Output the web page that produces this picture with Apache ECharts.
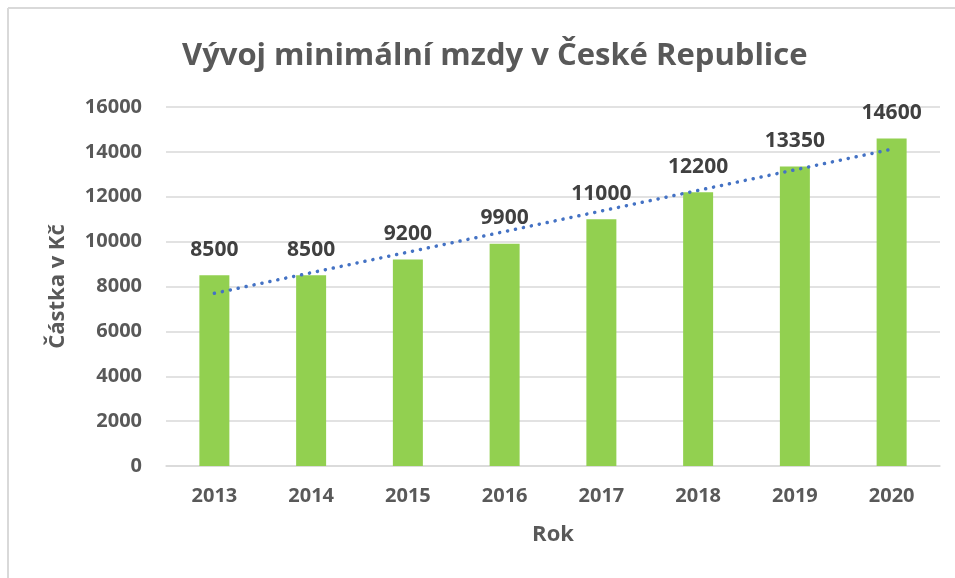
<!DOCTYPE html>
<html>
<head>
<meta charset="utf-8">
<script src="https://cdn.jsdelivr.net/npm/echarts@6/dist/echarts.min.js"></script>
<style>html,body{margin:0;padding:0;background:#fff}#c{width:955px;height:578px}</style>
</head>
<body>
<div id="c"></div>
<script>
const titleText = 'Vývoj minimální mzdy v České Republice';
const years = ['2013','2014','2015','2016','2017','2018','2019','2020'];
const wages = [8500, 8500, 9200, 9900, 11000, 12200, 13350, 14600];
const yAxisName = 'Částka v Kč';
const xAxisName = 'Rok';

// Linear trendline (least squares) computed from the data, as Excel does
const n = wages.length;
const mx = (n + 1) / 2;
const my = wages.reduce((a, b) => a + b, 0) / n;
let sxy = 0, sxx = 0;
wages.forEach((v, i) => { const dx = (i + 1) - mx; sxy += dx * (v - my); sxx += dx * dx; });
const slope = sxy / sxx;
const trend = wages.map((v, i) => my + slope * ((i + 1) - mx));

const FONT = '"Open Sans", "Noto Sans", sans-serif';
const chart = echarts.init(document.getElementById('c'), null, {renderer: 'canvas'});
chart.setOption({
  animation: false,
  backgroundColor: '#ffffff',
  title: {
    text: titleText, left: 177, top: 36,
    textStyle: {fontFamily: FONT, fontSize: 31, fontWeight: 'bold', color: '#595959'}
  },
  graphic: [
    {type: 'line', shape: {x1: 8, y1: 8, x2: 960, y2: 8}, style: {stroke: '#d9d9d9', lineWidth: 2}, silent: true},
    {type: 'line', shape: {x1: 8, y1: 8, x2: 8, y2: 580}, style: {stroke: '#d9d9d9', lineWidth: 2}, silent: true}
  ],
  grid: {left: 166, right: 15, top: 107, bottom: 112},
  xAxis: {
    type: 'category', data: years,
    name: xAxisName, nameLocation: 'middle', nameGap: 58,
    nameTextStyle: {fontFamily: FONT, fontSize: 22, fontWeight: 'bold', color: '#595959'},
    axisLine: {lineStyle: {color: '#d9d9d9', width: 1.5}},
    axisTick: {show: false},
    axisLabel: {fontFamily: FONT, fontSize: 20, fontWeight: 'bold', color: '#595959', margin: 20}
  },
  yAxis: {
    type: 'value', min: 0, max: 16000, interval: 2000,
    name: yAxisName, nameLocation: 'middle', nameGap: 97, nameRotate: 90,
    nameTextStyle: {fontFamily: FONT, fontSize: 22, fontWeight: 'bold', color: '#595959'},
    axisLine: {show: false}, axisTick: {show: false},
    axisLabel: {fontFamily: FONT, fontSize: 20, fontWeight: 'bold', color: '#595959', margin: 24,
      formatter: v => String(v)},
    splitLine: {lineStyle: {color: '#d9d9d9', width: 1.5}}
  },
  series: [
    {
      type: 'bar', data: wages, barWidth: '31%',
      itemStyle: {color: '#92D050'},
      label: {show: true, position: 'top', distance: 15, fontFamily: FONT, fontSize: 21, fontWeight: 'bold', color: '#404040'}
    },
    {
      type: 'line', data: trend, symbol: 'none', z: 5,
      lineStyle: {color: '#4472C4', width: 3.5, type: [0.1, 8], cap: 'round'}
    }
  ]
});
</script>
</body>
</html>
